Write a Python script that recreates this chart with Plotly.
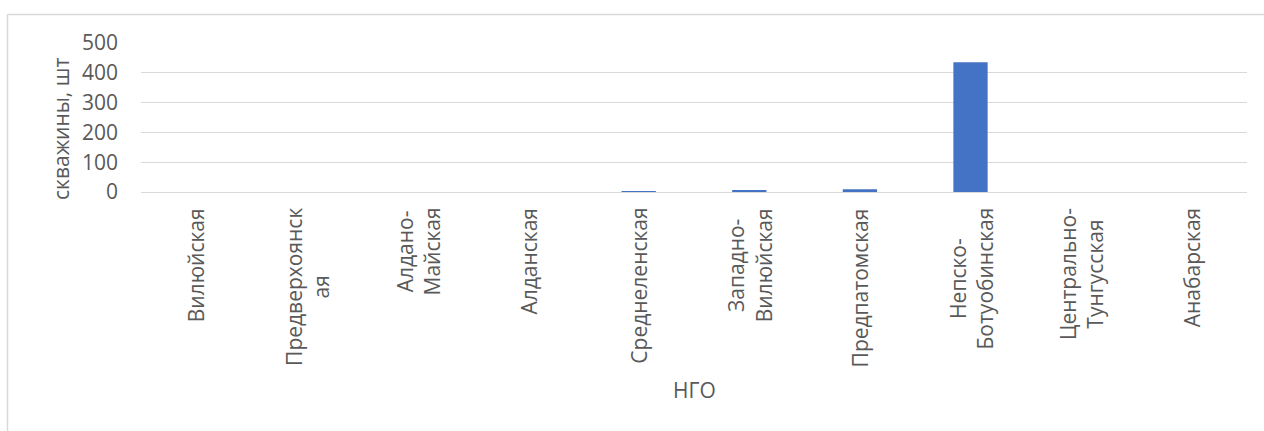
import plotly.graph_objects as go

categories = ["Вилюйская", "Предверхоянская", "Алдано-Майская", "Алданская", "Среднеленская",
              "Западно-Вилюйская", "Предпатомская", "Непско-Ботуобинская",
              "Центрально-Тунгусская", "Анабарская"]
tick_labels = ["Вилюйская", "Предверхоянск<br>ая", "Алдано-<br>Майская", "Алданская", "Среднеленская",
               "Западно-<br>Вилюйская", "Предпатомская", "Непско-<br>Ботуобинская",
               "Центрально-<br>Тунгусская", "Анабарская"]
wells = [0, 0, 0, 0, 1, 7, 9, 435, 0, 0]
y_ticks = [0, 100, 200, 300, 400, 500]

W, H = 1264, 431
PL, PR, PT, PB = 141, 1247, 43, 192
pw, ph = PR - PL, PB - PT

def px_x(px):
    return (px - PL) / pw

def px_y(py):
    return (PB - py) / ph

FONT = "Open Sans"
GRAY = "#595959"
GRID = "#d9d9d9"

fig = go.Figure(go.Bar(x=categories, y=wells, marker_color="#4472C4", marker_line_width=0))

annotations = []
for cat, lab in zip(categories, tick_labels):
    annotations.append(dict(x=cat, y=0, xref="x", yref="y", text=lab, showarrow=False,
                            textangle=-90, xanchor="center", yanchor="top", align="center",
                            yshift=-14, font=dict(family=FONT, size=21, color=GRAY)))
annotations.append(dict(x=px_x(61), y=px_y(129), xref="paper", yref="paper", text="скважины, шт",
                        showarrow=False, textangle=-90, xanchor="center", yanchor="middle",
                        font=dict(family=FONT, size=21, color=GRAY)))
annotations.append(dict(x=0.5, y=px_y(390), xref="paper", yref="paper", text="НГО",
                        showarrow=False, xanchor="center", yanchor="middle",
                        font=dict(family=FONT, size=21, color=GRAY)))

shapes = [
    dict(type="line", xref="paper", yref="paper", x0=px_x(7.5), y0=px_y(14.5), x1=px_x(1300), y1=px_y(14.5),
         line=dict(color=GRID, width=1.5)),
    dict(type="line", xref="paper", yref="paper", x0=px_x(7.5), y0=px_y(14.5), x1=px_x(7.5), y1=px_y(480),
         line=dict(color=GRID, width=1.5)),
]

fig.update_layout(
    width=W, height=H,
    margin=dict(l=PL, r=W - PR, t=PT, b=H - PB, pad=0),
    paper_bgcolor="white", plot_bgcolor="white",
    bargap=0.69, showlegend=False,
    xaxis=dict(type="category", showticklabels=False, showgrid=False, showline=False, ticks="",
               range=[-0.5, len(categories) - 0.5]),
    yaxis=dict(range=[0, 500], tickvals=y_ticks, showgrid=True, gridcolor=GRID, gridwidth=1,
               zeroline=True, zerolinecolor=GRID, zerolinewidth=1, showline=False, ticks="",
               ticklabelstandoff=22,
               tickfont=dict(family=FONT, size=21, color=GRAY)),
    annotations=annotations, shapes=shapes,
)

fig.write_html("out.html", config={"displayModeBar": False})
